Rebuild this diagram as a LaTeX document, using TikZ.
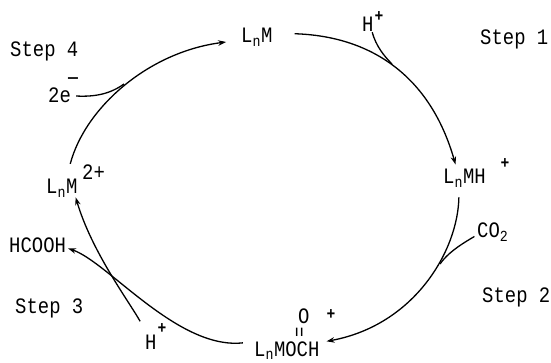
\documentclass[tikz,border=0pt]{standalone}
\usepackage{fontspec}
\setmainfont[FakeStretch=0.86]{Liberation Mono}
\tikzset{
  chem/.style={anchor=base west, inner sep=0pt, font=\fontsize{22}{25}\selectfont},
  charge/.style={inner sep=0pt, font=\fontsize{17}{20}\selectfont\bfseries},
  rxn/.style={line width=1.3pt, -{Stealth[length=8pt,width=5.5pt]}},
  feed/.style={line width=1.3pt}
}
\usetikzlibrary{arrows.meta}
\begin{document}
\begin{tikzpicture}[x=1pt, y=-1pt]
  \useasboundingbox (0,0) rectangle (551,363);

  %% compounds on the cycle
  \node[chem] (lnmtop) at (241,43) {L\textsubscript{n}M};
  \node[chem] (lnmh) at (443,184) {L\textsubscript{n}MH};
  \node[chem] (lnmoch) at (254,356) {L\textsubscript{n}MOCH};
  \node[chem] (lnmleft) at (46,194) {L\textsubscript{n}M};

  %% what goes in and out
  \node[chem] (htop) at (362,32) {H};
  \node[chem] (coo) at (477,238) {CO\textsubscript{2}};
  \node[chem] (hbot) at (145,349) {H};
  \node[chem] (hcooh) at (9,252) {HCOOH};
  \node[chem] (elec) at (48,103) {2e};

  %% charges and the carbonyl
  \node[charge] (chtop) at (379,17) {+};
  \node[charge] (chbot) at (162,329) {+};
  \node[charge] (chlnmh) at (505,164) {+};
  \node[charge] (chform) at (331,315) {+};
  \node[charge, font=\fontsize{24}{26}\selectfont] (chelec) at (73,82) {−};
  \node[chem] (chleft) at (82,180) {2+};
  \node[chem] (oxy) at (298,323) {O};
  \node[rotate=90, inner sep=0pt, font=\fontsize{20}{22}\selectfont] (dbl) at (301,332) {=};

  %% step labels
  \node[chem] (stepone) at (480,45) {Step 1};
  \node[chem] (steptwo) at (482,302) {Step 2};
  \node[chem] (stepthree) at (15,313) {Step 3};
  \node[chem] (stepfour) at (10,57) {Step 4};

  %% where the side arrows meet the cycle
  \coordinate (joinone) at (392,64);
  \coordinate (jointwo) at (440,264);
  \coordinate (joinfour) at (124,84);

  %% the cycle
  \draw[rxn, shorten <=22pt, shorten >=5pt] (lnmtop.15) .. controls (370,36) and (430,75) .. (lnmh.130);
  \draw[rxn, shorten <=10pt, shorten >=7pt] (lnmh.-121) .. controls (458,250) and (415,325) .. (lnmoch.13);
  \draw[rxn, shorten <=16pt, shorten >=2pt] (lnmoch.162) .. controls (178,350) and (108,262) .. (hcooh.-6);
  \draw[rxn, shorten <=15pt] (hbot.114) .. controls (128,300) and (92,252) .. (lnmleft.-33);
  \draw[rxn, shorten <=16pt, shorten >=15pt] (lnmleft.64) .. controls (85,108) and (148,52) .. (lnmtop.190);

  %% side arrows
  \draw[feed] (htop.-60) .. controls (376,46) and (384,56) .. (joinone);
  \draw[feed, shorten <=3pt] (coo.190) .. controls (458,246) and (447,254) .. (jointwo);
  \draw[feed, shorten <=5pt] (elec.east) .. controls (95,97) and (110,94) .. (joinfour);
\end{tikzpicture}
\end{document}
